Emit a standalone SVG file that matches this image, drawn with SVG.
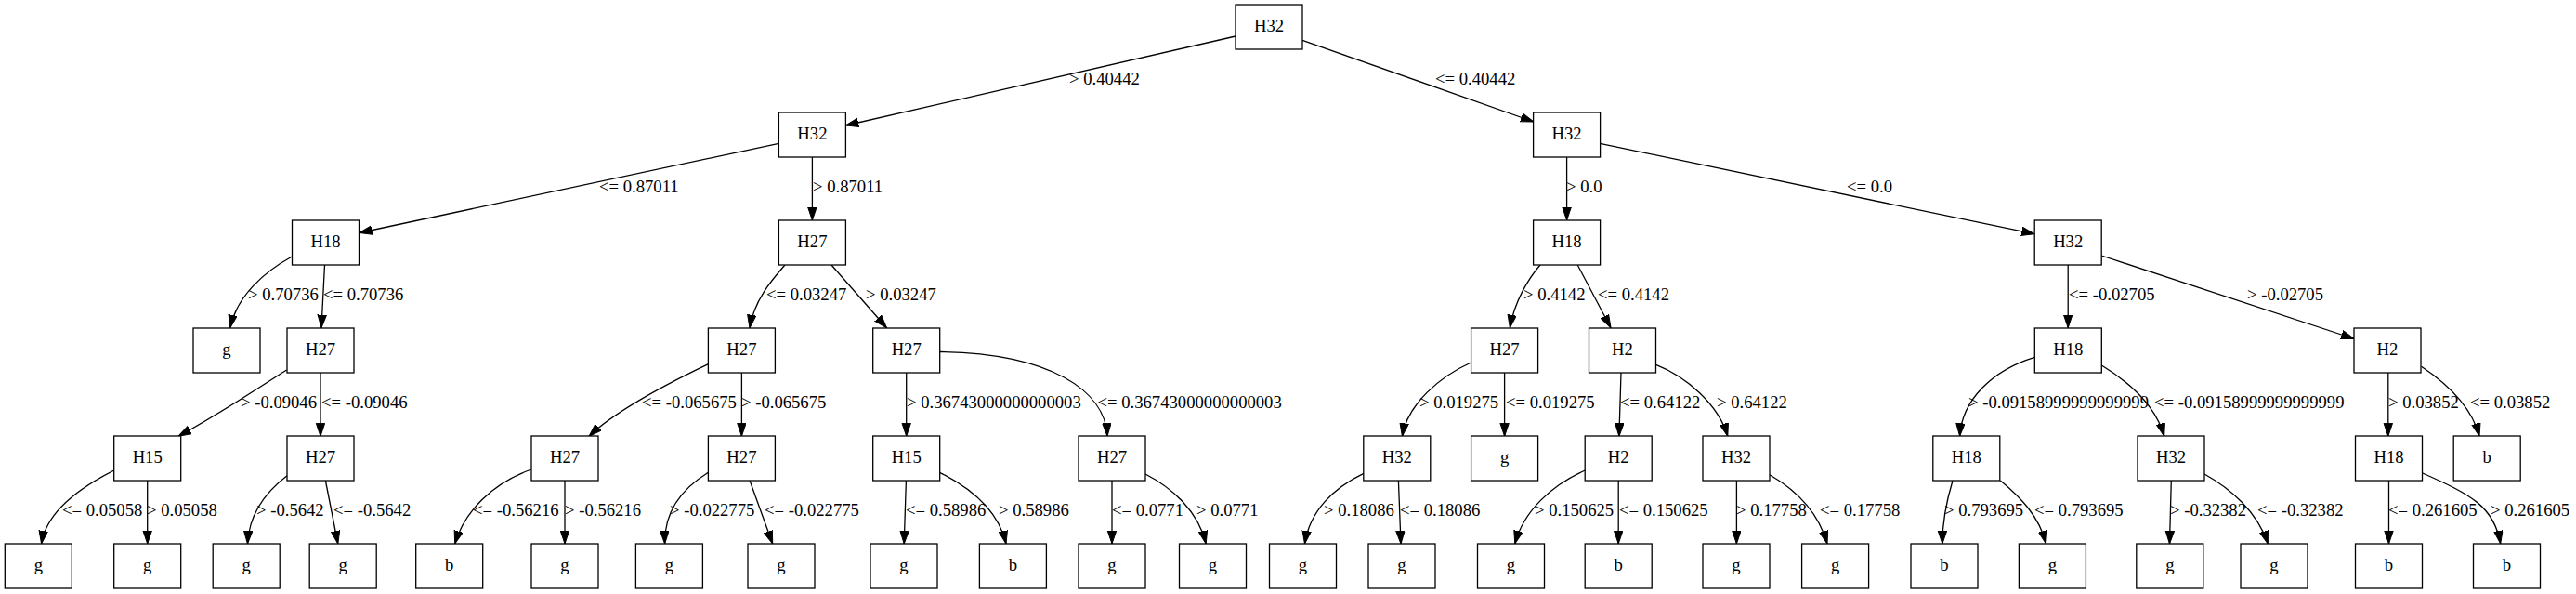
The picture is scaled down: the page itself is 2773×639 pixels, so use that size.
<svg xmlns="http://www.w3.org/2000/svg" width="2773" height="639" viewBox="0 0 2773 639">
<style>
.n rect{fill:#fff;stroke:#000;stroke-width:1.3}
.n text{font-family:"Liberation Serif","Times New Roman",serif;font-size:18.67px;text-anchor:middle;fill:#000}
#edges path{fill:none;stroke:#000;stroke-width:1.3;marker-end:url(#a)}
#labels text{font-family:"Liberation Serif","Times New Roman",serif;font-size:18.67px;fill:#000}
</style>
<defs>
<marker id="a" markerUnits="userSpaceOnUse" markerWidth="15" markerHeight="11" refX="14" refY="5" orient="auto">
<path d="M0,0.3 L14,5 L0,9.7 z" fill="#000" stroke="#000" stroke-width="1"/>
</marker>
</defs>
<rect width="2773" height="639" fill="#fff"/>
<g id="edges">
<path d="M1330,39 L910.3,135"/>
<path d="M1402,43.3 L1650.9,131"/>
<path d="M838.4,154.3 L386.6,250.5"/>
<path d="M874.4,169 L874.4,237"/>
<path d="M1686.6,169 L1686.6,237"/>
<path d="M1722.3,154.3 L2190,251.7"/>
<path d="M314.3,276 C285,292 255,318 247.8,352.7"/>
<path d="M349.5,285 L346,352.7"/>
<path d="M845,285 C832,300 812,322 807,352.7"/>
<path d="M895,285 L954.5,352.7"/>
<path d="M1658,285 C1645,300 1630,325 1625.4,352.7"/>
<path d="M1698.2,285 L1734,352.7"/>
<path d="M2226.2,285 L2226.2,352.7"/>
<path d="M2262.3,275 L2534.2,364.5"/>
<path d="M308.5,398 C285,413 240,443 192,469.3"/>
<path d="M345,401 L345,469.3"/>
<path d="M762.5,391.7 C720,412 665,440 634,469.3"/>
<path d="M798.4,401 L798.4,469.3"/>
<path d="M975.7,401 L975.7,469.3"/>
<path d="M1011.6,378.5 C1130,380 1190,420 1192,469.3"/>
<path d="M1583.5,390 C1550,405 1515,435 1509.4,469.3"/>
<path d="M1619.6,401 L1619.6,469.3"/>
<path d="M1745,401 L1742.9,469.3"/>
<path d="M1782.6,392.3 C1815,405 1850,435 1859.8,469.3"/>
<path d="M2190.4,384.3 C2145,398 2112,430 2109.6,469.3"/>
<path d="M2262.7,393.3 C2290,410 2320,435 2329.7,469.3"/>
<path d="M2570.8,401 L2570.8,469.3"/>
<path d="M2606.5,394.3 C2630,410 2660,435 2669,469.3"/>
<path d="M122.8,506 C85,525 50,550 44.6,585"/>
<path d="M158.7,517 L158.7,585"/>
<path d="M309,511.7 C285,530 268,555 266.5,585"/>
<path d="M350.4,517 L363.8,585"/>
<path d="M571.9,505 C530,520 500,550 489.7,585"/>
<path d="M608,517 L608,585"/>
<path d="M762.5,508.3 C735,525 715,550 715.6,585"/>
<path d="M807.1,517 L831.7,585"/>
<path d="M975.4,517 L973.2,585"/>
<path d="M1011.6,508.3 C1045,525 1075,550 1083,585"/>
<path d="M1197,517 L1197,585"/>
<path d="M1233,510 C1262,525 1290,550 1298.2,585"/>
<path d="M1467.9,509.3 C1435,525 1410,550 1404.5,585"/>
<path d="M1505.4,517 L1508,585"/>
<path d="M1706.3,506 C1670,522 1640,550 1630.8,585"/>
<path d="M1742.2,517 L1742.2,585"/>
<path d="M1869.4,517 L1869.4,585"/>
<path d="M1904.9,510.7 C1935,528 1958,553 1967,585"/>
<path d="M2102,517 C2095,540 2091,560 2090.9,585"/>
<path d="M2153.4,517 C2175,535 2195,555 2202.5,585"/>
<path d="M2337.3,517 L2335.5,585"/>
<path d="M2373,510 C2400,525 2430,550 2441.3,585"/>
<path d="M2571.5,517 L2571.5,585"/>
<path d="M2607.8,509 C2660,532 2685,545 2691.7,585"/>
</g>
<g id="labels">
<text x="1151" y="91">&gt; 0.40442</text>
<text x="1545" y="91">&lt;= 0.40442</text>
<text x="645" y="207">&lt;= 0.87011</text>
<text x="875" y="207">&gt; 0.87011</text>
<text x="1686" y="207">&gt; 0.0</text>
<text x="1988" y="207">&lt;= 0.0</text>
<text x="267" y="323">&gt; 0.70736</text>
<text x="348" y="323">&lt;= 0.70736</text>
<text x="825" y="323">&lt;= 0.03247</text>
<text x="932" y="323">&gt; 0.03247</text>
<text x="1640" y="323">&gt; 0.4142</text>
<text x="1720" y="323">&lt;= 0.4142</text>
<text x="2227" y="323">&lt;= -0.02705</text>
<text x="2419" y="323">&gt; -0.02705</text>
<text x="259" y="439">&gt; -0.09046</text>
<text x="346" y="439">&lt;= -0.09046</text>
<text x="691" y="439">&lt;= -0.065675</text>
<text x="798" y="439">&gt; -0.065675</text>
<text x="976" y="439">&gt; 0.36743000000000003</text>
<text x="1181.5" y="439">&lt;= 0.36743000000000003</text>
<text x="1528" y="439">&gt; 0.019275</text>
<text x="1621" y="439">&lt;= 0.019275</text>
<text x="1744" y="439">&lt;= 0.64122</text>
<text x="1848" y="439">&gt; 0.64122</text>
<text x="2119" y="439">&gt; -0.09158999999999999</text>
<text x="2319" y="439">&lt;= -0.09158999999999999</text>
<text x="2571" y="439">&gt; 0.03852</text>
<text x="2659" y="439">&lt;= 0.03852</text>
<text x="67" y="555">&lt;= 0.05058</text>
<text x="158" y="555">&gt; 0.05058</text>
<text x="276" y="555">&gt; -0.5642</text>
<text x="359" y="555">&lt;= -0.5642</text>
<text x="509" y="555">&lt;= -0.56216</text>
<text x="608" y="555">&gt; -0.56216</text>
<text x="721" y="555">&gt; -0.022775</text>
<text x="823" y="555">&lt;= -0.022775</text>
<text x="975" y="555">&lt;= 0.58986</text>
<text x="1075" y="555">&gt; 0.58986</text>
<text x="1197" y="555">&lt;= 0.0771</text>
<text x="1288" y="555">&gt; 0.0771</text>
<text x="1425" y="555">&gt; 0.18086</text>
<text x="1507" y="555">&lt;= 0.18086</text>
<text x="1652" y="555">&gt; 0.150625</text>
<text x="1743" y="555">&lt;= 0.150625</text>
<text x="1869" y="555">&gt; 0.17758</text>
<text x="1959" y="555">&lt;= 0.17758</text>
<text x="2093" y="555">&gt; 0.793695</text>
<text x="2190" y="555">&lt;= 0.793695</text>
<text x="2336" y="555">&gt; -0.32382</text>
<text x="2430" y="555">&lt;= -0.32382</text>
<text x="2571" y="555">&lt;= 0.261605</text>
<text x="2681" y="555">&gt; 0.261605</text>
</g>
<g id="n0" class="n"><rect x="1330" y="5" width="72" height="48"/><text x="1366" y="33.5">H32</text></g>
<g id="n1" class="n"><rect x="838.4" y="121" width="72" height="48"/><text x="874.4" y="149.5">H32</text></g>
<g id="n2" class="n"><rect x="1650.6" y="121" width="72" height="48"/><text x="1686.6" y="149.5">H32</text></g>
<g id="n3" class="n"><rect x="314.5" y="237" width="72" height="48"/><text x="350.5" y="265.5">H18</text></g>
<g id="n4" class="n"><rect x="838.4" y="237" width="72" height="48"/><text x="874.4" y="265.5">H27</text></g>
<g id="n5" class="n"><rect x="1650.6" y="237" width="72" height="48"/><text x="1686.6" y="265.5">H18</text></g>
<g id="n6" class="n"><rect x="2190.2" y="237" width="72" height="48"/><text x="2226.2" y="265.5">H32</text></g>
<g id="n7" class="n"><rect x="208" y="353" width="72" height="48"/><text x="244" y="381.5">g</text></g>
<g id="n8" class="n"><rect x="309" y="353" width="72" height="48"/><text x="345" y="381.5">H27</text></g>
<g id="n9" class="n"><rect x="762.4" y="353" width="72" height="48"/><text x="798.4" y="381.5">H27</text></g>
<g id="n10" class="n"><rect x="939.7" y="353" width="72" height="48"/><text x="975.7" y="381.5">H27</text></g>
<g id="n11" class="n"><rect x="1583.6" y="353" width="72" height="48"/><text x="1619.6" y="381.5">H27</text></g>
<g id="n12" class="n"><rect x="1710.5" y="353" width="72" height="48"/><text x="1746.5" y="381.5">H2</text></g>
<g id="n13" class="n"><rect x="2190.3" y="353" width="72" height="48"/><text x="2226.3" y="381.5">H18</text></g>
<g id="n14" class="n"><rect x="2534" y="353" width="72" height="48"/><text x="2570" y="381.5">H2</text></g>
<g id="n15" class="n"><rect x="122.7" y="469" width="72" height="48"/><text x="158.7" y="497.5">H15</text></g>
<g id="n16" class="n"><rect x="309" y="469" width="72" height="48"/><text x="345" y="497.5">H27</text></g>
<g id="n17" class="n"><rect x="572" y="469" width="72" height="48"/><text x="608" y="497.5">H27</text></g>
<g id="n18" class="n"><rect x="762.4" y="469" width="72" height="48"/><text x="798.4" y="497.5">H27</text></g>
<g id="n19" class="n"><rect x="939.7" y="469" width="72" height="48"/><text x="975.7" y="497.5">H15</text></g>
<g id="n20" class="n"><rect x="1161" y="469" width="72" height="48"/><text x="1197" y="497.5">H27</text></g>
<g id="n21" class="n"><rect x="1467.8" y="469" width="72" height="48"/><text x="1503.8" y="497.5">H32</text></g>
<g id="n22" class="n"><rect x="1583.6" y="469" width="72" height="48"/><text x="1619.6" y="497.5">g</text></g>
<g id="n23" class="n"><rect x="1706.2" y="469" width="72" height="48"/><text x="1742.2" y="497.5">H2</text></g>
<g id="n24" class="n"><rect x="1833" y="469" width="72" height="48"/><text x="1869" y="497.5">H32</text></g>
<g id="n25" class="n"><rect x="2080.8" y="469" width="72" height="48"/><text x="2116.8" y="497.5">H18</text></g>
<g id="n26" class="n"><rect x="2301" y="469" width="72" height="48"/><text x="2337" y="497.5">H32</text></g>
<g id="n27" class="n"><rect x="2535.5" y="469" width="72" height="48"/><text x="2571.5" y="497.5">H18</text></g>
<g id="n28" class="n"><rect x="2641.2" y="469" width="72" height="48"/><text x="2677.2" y="497.5">b</text></g>
<g id="n29" class="n"><rect x="5.3" y="585" width="72" height="48"/><text x="41.3" y="613.5">g</text></g>
<g id="n30" class="n"><rect x="122.7" y="585" width="72" height="48"/><text x="158.7" y="613.5">g</text></g>
<g id="n31" class="n"><rect x="229.2" y="585" width="72" height="48"/><text x="265.2" y="613.5">g</text></g>
<g id="n32" class="n"><rect x="333.2" y="585" width="72" height="48"/><text x="369.2" y="613.5">g</text></g>
<g id="n33" class="n"><rect x="447.7" y="585" width="72" height="48"/><text x="483.7" y="613.5">b</text></g>
<g id="n34" class="n"><rect x="572" y="585" width="72" height="48"/><text x="608" y="613.5">g</text></g>
<g id="n35" class="n"><rect x="684.4" y="585" width="72" height="48"/><text x="720.4" y="613.5">g</text></g>
<g id="n36" class="n"><rect x="805" y="585" width="72" height="48"/><text x="841" y="613.5">g</text></g>
<g id="n37" class="n"><rect x="937" y="585" width="72" height="48"/><text x="973" y="613.5">g</text></g>
<g id="n38" class="n"><rect x="1054.4" y="585" width="72" height="48"/><text x="1090.4" y="613.5">b</text></g>
<g id="n39" class="n"><rect x="1161" y="585" width="72" height="48"/><text x="1197" y="613.5">g</text></g>
<g id="n40" class="n"><rect x="1269.5" y="585" width="72" height="48"/><text x="1305.5" y="613.5">g</text></g>
<g id="n41" class="n"><rect x="1366.5" y="585" width="72" height="48"/><text x="1402.5" y="613.5">g</text></g>
<g id="n42" class="n"><rect x="1473" y="585" width="72" height="48"/><text x="1509" y="613.5">g</text></g>
<g id="n43" class="n"><rect x="1590.5" y="585" width="72" height="48"/><text x="1626.5" y="613.5">g</text></g>
<g id="n44" class="n"><rect x="1706.2" y="585" width="72" height="48"/><text x="1742.2" y="613.5">b</text></g>
<g id="n45" class="n"><rect x="1833" y="585" width="72" height="48"/><text x="1869" y="613.5">g</text></g>
<g id="n46" class="n"><rect x="1939.6" y="585" width="72" height="48"/><text x="1975.6" y="613.5">g</text></g>
<g id="n47" class="n"><rect x="2057" y="585" width="72" height="48"/><text x="2093" y="613.5">b</text></g>
<g id="n48" class="n"><rect x="2173.4" y="585" width="72" height="48"/><text x="2209.4" y="613.5">g</text></g>
<g id="n49" class="n"><rect x="2299.8" y="585" width="72" height="48"/><text x="2335.8" y="613.5">g</text></g>
<g id="n50" class="n"><rect x="2412" y="585" width="72" height="48"/><text x="2448" y="613.5">g</text></g>
<g id="n51" class="n"><rect x="2535.5" y="585" width="72" height="48"/><text x="2571.5" y="613.5">b</text></g>
<g id="n52" class="n"><rect x="2662.5" y="585" width="72" height="48"/><text x="2698.5" y="613.5">b</text></g>
</svg>
